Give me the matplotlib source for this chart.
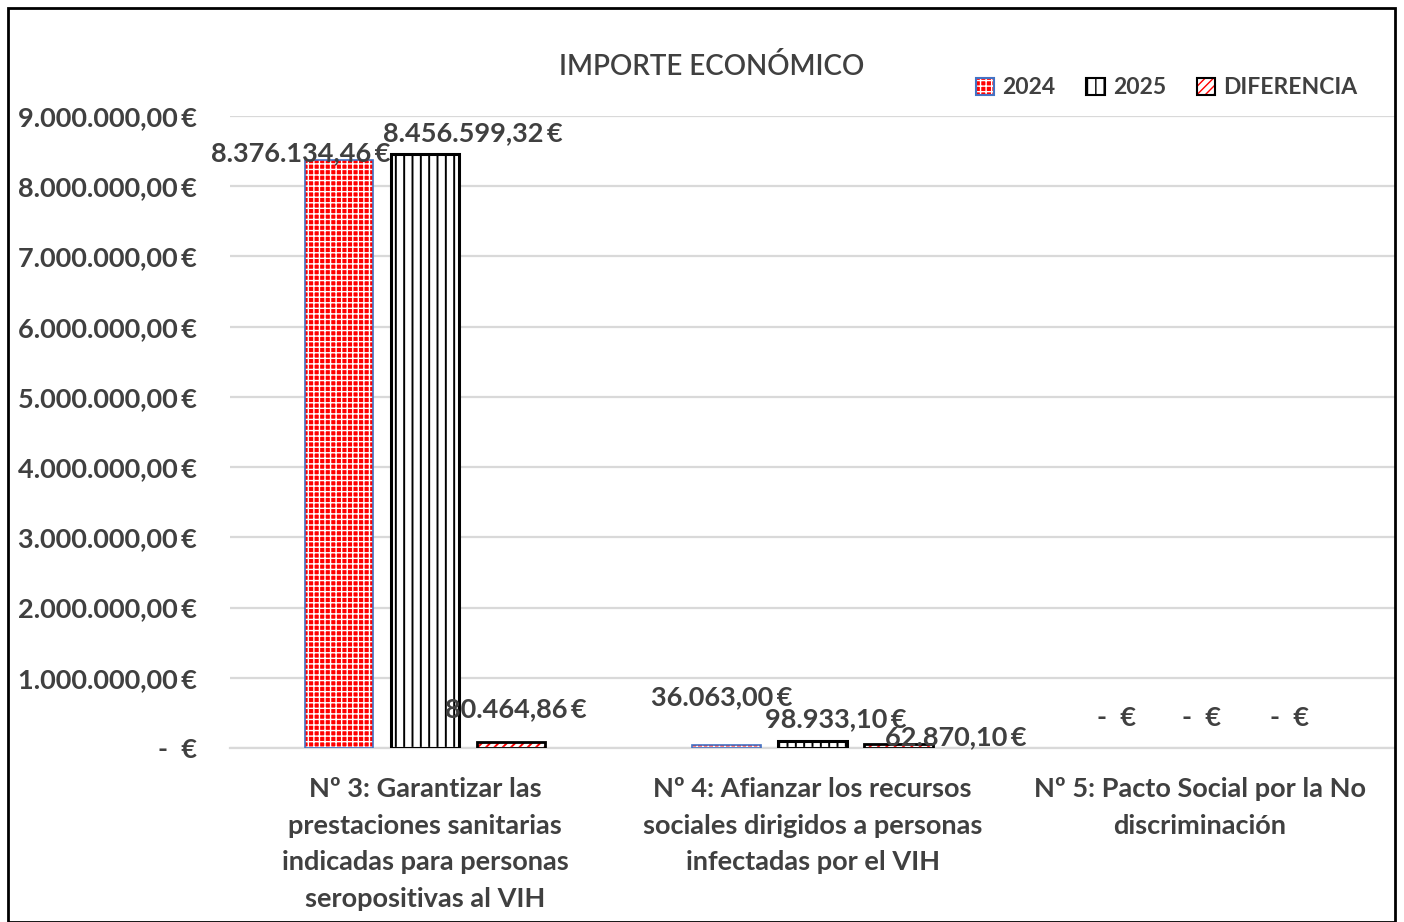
import numpy as np
import matplotlib
matplotlib.use("Agg")
import matplotlib.pyplot as plt
from matplotlib.patches import Patch, Rectangle
from matplotlib.legend_handler import HandlerTuple
from matplotlib.ticker import FuncFormatter

# Data
categories = [
    "Nº 3: Garantizar las\nprestaciones sanitarias\nindicadas para personas\nseropositivas al VIH",
    "Nº 4: Afianzar los recursos\nsociales dirigidos a personas\ninfectadas por el VIH",
    "Nº 5: Pacto Social por la No\ndiscriminación",
]
series_names = ["2024", "2025", "DIFERENCIA"]
values_2024 = [8376134.46, 36063.00, 0.0]
values_2025 = [8456599.32, 98933.10, 0.0]
values_dif = [80464.86, 62870.10, 0.0]

plt.rcParams['font.family'] = ['Lato', 'DejaVu Sans']
TXT = '#404040'
FS = 19.5


def euro(v):
    if v == 0:
        return "-  €"
    s = f"{v:,.2f}".replace(",", "X").replace(".", ",").replace("X", ".")
    return s + "\u2009€"


fig = plt.figure(figsize=(14.04, 9.22), dpi=100)
ax = fig.add_axes([230 / 1404, 1 - 748 / 922, (1395 - 230) / 1404, (748 - 116) / 922])

x = np.arange(len(categories))
w = 0.176
step = 0.222

# styles: (face, hatch, hatch colour, edge colour, edge width, hatch width)
styles = [
    ('red', '+++', 'white', '#4472C4', 1.2, 1.0),
    ('white', '||', 'black', 'black', 2.2, 1.4),
    ('white', '////', 'red', 'black', 2.0, 1.4),
]
all_vals = [values_2024, values_2025, values_dif]
handles = []
for i, (vals, st) in enumerate(zip(all_vals, styles)):
    face, hatch, hcol, ecol, lw, hlw = st
    xs = x + (i - 1) * step
    with plt.rc_context({'hatch.linewidth': hlw}):
        ax.bar(xs, vals, w, color=face, edgecolor=hcol, hatch=hatch, linewidth=0, zorder=2)
        hp = Patch(facecolor=face, edgecolor=hcol, hatch=hatch, linewidth=0)
    lws = [lw if v > 0 else 0 for v in vals]
    ax.bar(xs, vals, w, fill=False, edgecolor=ecol, linewidth=lws, zorder=3)
    handles.append((hp, Patch(fill=False, edgecolor=ecol, linewidth=1.5)))

# label offsets in pixels (dx, dy) from bar top centre
offsets = [
    [(-39, 7), (-5, 48), (3, 30)],
    [(48, 21), (23, 22), (2, 30)],
    [(5, 33), (57, 6), (4, 30)],
]
for i, vals in enumerate(all_vals):
    xs = x + (i - 1) * step
    for j, v in enumerate(vals):
        dx, dy = offsets[i][j]
        ax.annotate(euro(v), xy=(xs[j], v), xytext=(dx * 0.72, dy * 0.72),
                    textcoords='offset points', ha='center', va='center',
                    fontsize=FS, fontweight='bold', color=TXT, zorder=5)

ax.set_xlim(-0.504, 2.504)
ax.set_ylim(0, 9000000)
ax.set_yticks(np.arange(0, 9000001, 1000000))
ax.yaxis.set_major_formatter(FuncFormatter(lambda v, p: euro(v)))
ax.set_xticks(x)
ax.set_xticklabels(categories, fontsize=FS, fontweight='bold', color=TXT, linespacing=1.63)
ax.tick_params(axis='both', length=0, colors=TXT)
ax.tick_params(axis='y', pad=24, labelsize=FS)
ax.tick_params(axis='x', pad=21)
for lbl in ax.get_yticklabels():
    lbl.set_fontweight('bold')
ax.grid(axis='y', color='#d9d9d9', linewidth=1.6, zorder=0)
ax.set_axisbelow(True)
for s in ['top', 'right', 'left']:
    ax.spines[s].set_visible(False)
ax.spines['bottom'].set_color('#d9d9d9')
ax.spines['bottom'].set_linewidth(1.6)

fig.text(712 / 1404, 1 - 66 / 922, "IMPORTE ECONÓMICO", ha='center', va='center',
         fontsize=20, fontweight='semibold', color=TXT)

fig.legend(handles, series_names, handler_map={tuple: HandlerTuple(ndivide=1, pad=0)},
           loc='center right', bbox_to_anchor=(1378 / 1404, 1 - 88 / 922),
           ncol=3, frameon=False, handlelength=0.8, handleheight=0.8,
           handletextpad=0.35, columnspacing=1.35,
           prop={'size': 16.5, 'weight': 'bold'}, labelcolor=TXT)

fig.patches.append(Rectangle((8 / 1404, 0.0), 1387 / 1404, 1 - 8 / 922,
                             transform=fig.transFigure, fill=False,
                             edgecolor='black', linewidth=2))

fig.savefig('out.png', dpi=100)
